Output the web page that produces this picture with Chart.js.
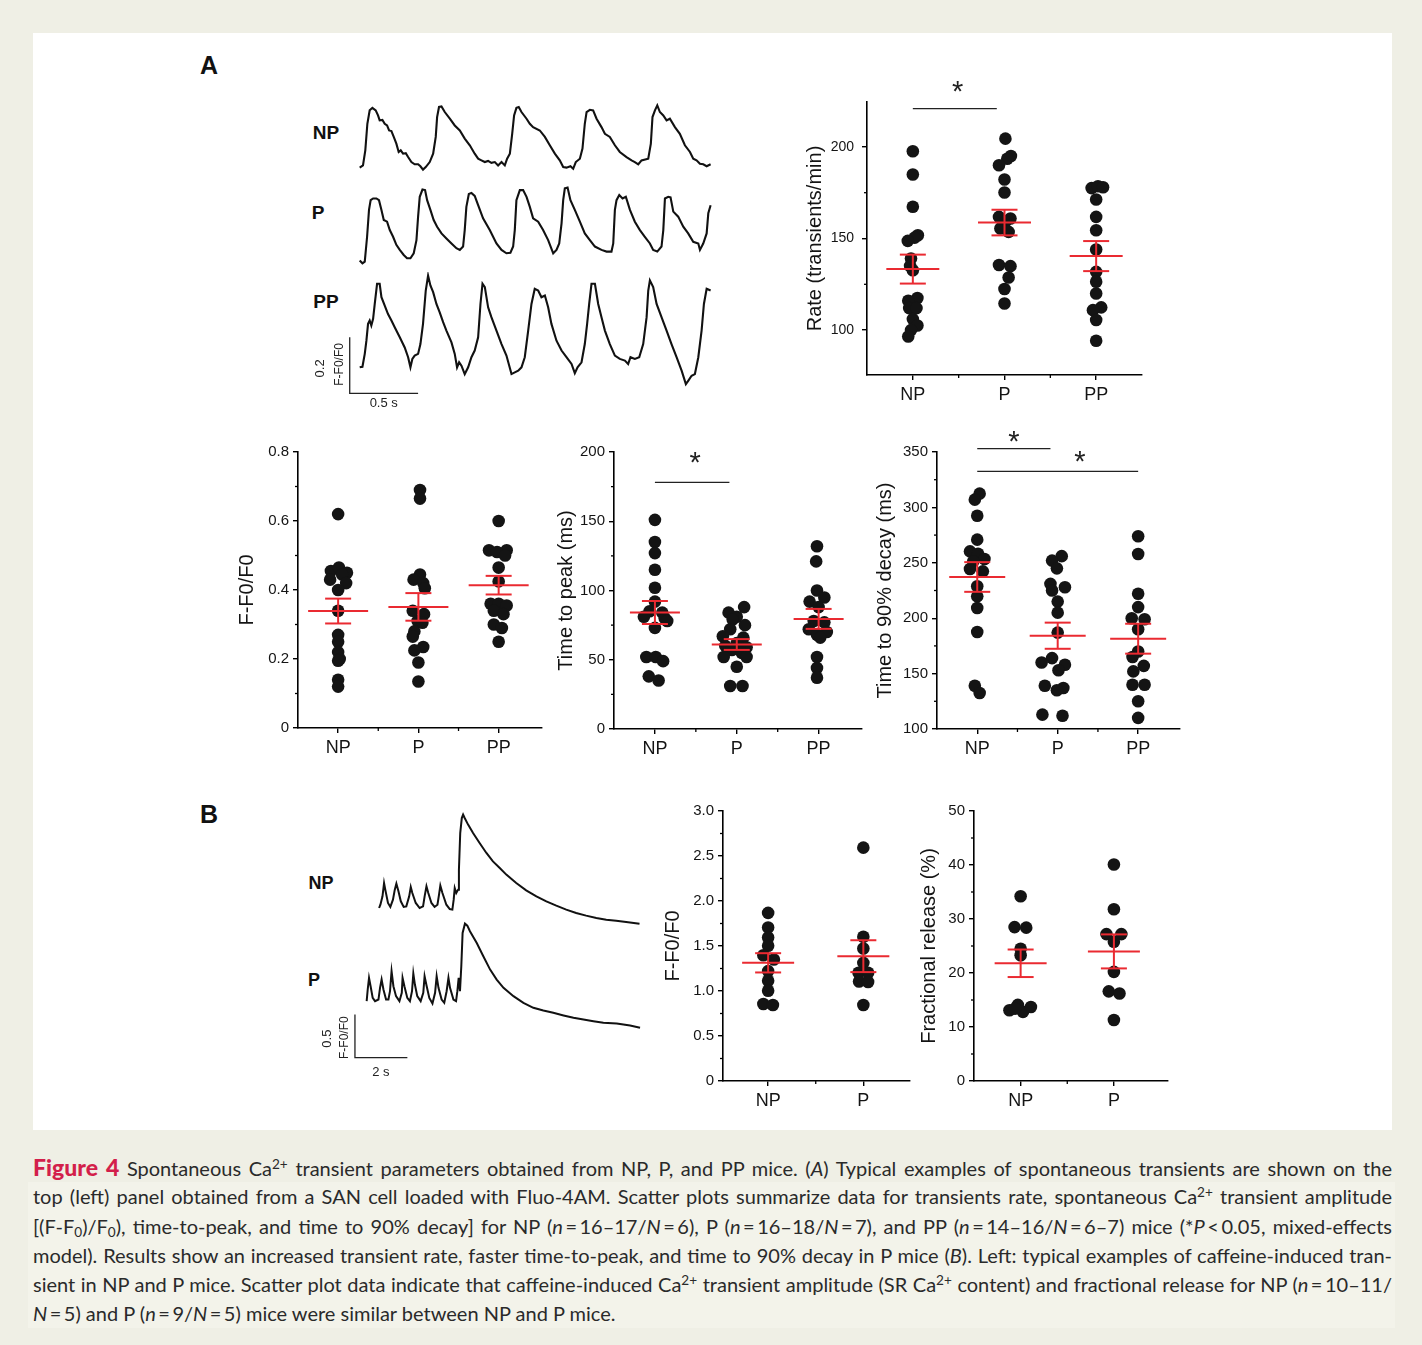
<!DOCTYPE html>
<html>
<head>
<meta charset="utf-8">
<script src="https://cdn.jsdelivr.net/npm/chart.js@4.4.0/dist/chart.umd.min.js"></script>
<style>
  html, body { margin: 0; padding: 0; }
  body { width: 1422px; height: 1345px; background: #efefe5; position: relative; overflow: hidden; }
  #panel { position: absolute; left: 33px; top: 33px; width: 1359px; height: 1097px; background: #fff; }
  canvas { position: absolute; }
  .lbl { position: absolute; font-family: Arial, "Liberation Sans", sans-serif; font-weight: bold; color: #111;
         line-height: 1; transform: translate(-50%, -50%); white-space: nowrap; }
  #band { position: absolute; left: 28px; top: 1182px; width: 1367px; height: 146px; background: #f3f3ea; }
  #caption { position: absolute; left: 33px; top: 1153px; width: 1359px; font-family: Lato, "Open Sans", sans-serif;
             font-size: 20px; color: #2a2a2a; }
  #caption div { height: 29.3px; line-height: 29.3px; text-align: justify; text-align-last: justify; }
  #caption div.last { text-align-last: left; }
  #caption .fig { color: #d31f4b; font-weight: 900; font-size: 23px; }
  #caption sup { font-size: 0.68em; line-height: 0; vertical-align: 0; position: relative; top: -0.55em; }
  #caption sub { font-size: 0.68em; line-height: 0; vertical-align: 0; position: relative; top: 0.25em; }
</style>
</head>
<body>
<div id="panel"></div>
<div id="band"></div>

<div class="lbl" style="left:209px;top:65px;font-size:25px">A</div>
<div class="lbl" style="left:209px;top:814px;font-size:25px">B</div>
<div class="lbl" style="left:326px;top:132px;font-size:19px">NP</div>
<div class="lbl" style="left:318px;top:212px;font-size:19px">P</div>
<div class="lbl" style="left:326px;top:301px;font-size:19px">PP</div>
<div class="lbl" style="left:321px;top:883px;font-size:18px">NP</div>
<div class="lbl" style="left:314px;top:980px;font-size:18px">P</div>

<canvas id="trNP"></canvas>
<canvas id="trP"></canvas>
<canvas id="trPP"></canvas>
<canvas id="cafNP"></canvas>
<canvas id="cafP"></canvas>
<canvas id="rate"></canvas>
<canvas id="amp"></canvas>
<canvas id="ttp"></canvas>
<canvas id="decay"></canvas>
<canvas id="srAmp"></canvas>
<canvas id="frac"></canvas>

<div id="caption">
  <div><span class="fig">Figure 4</span> Spontaneous Ca<sup>2+</sup> transient parameters obtained from NP, P, and PP mice. (<i>A</i>) Typical examples of spontaneous transients are shown on the</div>
  <div>top (left) panel obtained from a SAN cell loaded with Fluo-4AM. Scatter plots summarize data for transients rate, spontaneous Ca<sup>2+</sup> transient amplitude</div>
  <div>[(F-F<sub>0</sub>)/F<sub>0</sub>), time-to-peak, and time to 90% decay] for NP (<i>n</i>&#8201;=&#8201;16–17/<i>N</i>&#8201;=&#8201;6), P (<i>n</i>&#8201;=&#8201;16–18/<i>N</i>&#8201;=&#8201;7), and PP (<i>n</i>&#8201;=&#8201;14–16/<i>N</i>&#8201;=&#8201;6–7) mice (*<i>P</i>&#8201;&lt;&#8201;0.05, mixed-effects</div>
  <div>model). Results show an increased transient rate, faster time-to-peak, and time to 90% decay in P mice (<i>B</i>). Left: typical examples of caffeine-induced tran-</div>
  <div>sient in NP and P mice. Scatter plot data indicate that caffeine-induced Ca<sup>2+</sup> transient amplitude (SR Ca<sup>2+</sup> content) and fractional release for NP (<i>n</i>&#8201;=&#8201;10–11/</div>
  <div class="last"><i>N</i>&#8201;=&#8201;5) and P (<i>n</i>&#8201;=&#8201;9/<i>N</i>&#8201;=&#8201;5) mice were similar between NP and P mice.</div>
</div>

<script>
// ---- data ----
const groups3 = ["NP", "P", "PP"];
const groups2 = ["NP", "P"];

// spontaneous transients, [time (s), F-F0/F0]
const traceNP = [[0,0],[0.024,0.008],[0.041,0.062],[0.056,0.157],[0.073,0.205],[0.093,0.214],[0.117,0.205],[0.134,0.187],[0.146,0.169],[0.166,0.171],[0.183,0.157],[0.2,0.151],[0.215,0.133],[0.232,0.131],[0.249,0.11],[0.268,0.086],[0.285,0.056],[0.3,0.062],[0.317,0.05],[0.337,0.052],[0.354,0.038],[0.378,0.02],[0.402,0.012],[0.427,0.012],[0.444,0.005],[0.463,-0.007],[0.483,0.002],[0.512,0.02],[0.537,0.05],[0.556,0.11],[0.566,0.181],[0.58,0.217],[0.598,0.219],[0.622,0.199],[0.659,0.175],[0.695,0.151],[0.732,0.133],[0.768,0.104],[0.805,0.08],[0.841,0.05],[0.866,0.032],[0.89,0.026],[0.915,0.02],[0.939,0.024],[0.963,0.017],[0.988,0.02],[1.012,0.008],[1.037,0.02],[1.061,0.008],[1.078,0.032],[1.098,0.05],[1.115,0.121],[1.129,0.187],[1.146,0.214],[1.163,0.217],[1.183,0.199],[1.22,0.175],[1.244,0.157],[1.268,0.145],[1.317,0.133],[1.354,0.11],[1.39,0.08],[1.427,0.05],[1.463,0.026],[1.488,0.002],[1.512,0],[1.541,0.005],[1.561,-0.004],[1.58,0.02],[1.61,0.032],[1.629,0.068],[1.646,0.157],[1.659,0.199],[1.683,0.207],[1.707,0.205],[1.732,0.175],[1.768,0.145],[1.793,0.121],[1.829,0.11],[1.866,0.08],[1.902,0.056],[1.951,0.038],[1.988,0.026],[2.012,0.02],[2.037,0.012],[2.061,0.026],[2.11,0.032],[2.129,0.086],[2.141,0.181],[2.159,0.205],[2.176,0.223],[2.195,0.199],[2.22,0.187],[2.244,0.169],[2.268,0.175],[2.305,0.145],[2.341,0.121],[2.378,0.08],[2.415,0.056],[2.439,0.032],[2.463,0.026],[2.488,0.014],[2.512,0.012],[2.537,0.005],[2.566,0.012]];
const traceP = [[0,0.004],[0.02,-0.006],[0.037,0],[0.054,0.089],[0.068,0.185],[0.08,0.22],[0.098,0.226],[0.122,0.226],[0.141,0.22],[0.159,0.185],[0.176,0.149],[0.2,0.143],[0.22,0.113],[0.244,0.089],[0.268,0.06],[0.293,0.042],[0.322,0.024],[0.346,0.012],[0.371,0.012],[0.395,0.03],[0.415,0.077],[0.427,0.161],[0.439,0.232],[0.459,0.258],[0.478,0.256],[0.493,0.22],[0.517,0.185],[0.541,0.149],[0.566,0.125],[0.598,0.101],[0.634,0.083],[0.671,0.065],[0.707,0.048],[0.732,0.042],[0.756,0.054],[0.768,0.113],[0.78,0.196],[0.798,0.242],[0.817,0.246],[0.841,0.235],[0.866,0.202],[0.902,0.155],[0.951,0.113],[1.0,0.065],[1.037,0.042],[1.073,0.03],[1.102,0.032],[1.122,0.054],[1.134,0.113],[1.146,0.22],[1.171,0.256],[1.195,0.256],[1.22,0.232],[1.244,0.196],[1.268,0.155],[1.305,0.143],[1.341,0.113],[1.378,0.077],[1.415,0.03],[1.439,0.042],[1.459,0.065],[1.476,0.137],[1.488,0.22],[1.5,0.262],[1.52,0.265],[1.541,0.22],[1.573,0.185],[1.61,0.143],[1.646,0.101],[1.683,0.077],[1.72,0.054],[1.768,0.042],[1.805,0.036],[1.841,0.036],[1.854,0.065],[1.866,0.185],[1.878,0.22],[1.898,0.238],[1.922,0.226],[1.946,0.232],[1.976,0.185],[2.012,0.143],[2.049,0.113],[2.085,0.089],[2.122,0.065],[2.146,0.042],[2.176,0.036],[2.207,0.054],[2.22,0.113],[2.232,0.226],[2.256,0.232],[2.273,0.23],[2.293,0.179],[2.329,0.161],[2.366,0.125],[2.402,0.101],[2.439,0.071],[2.476,0.065],[2.488,0.042],[2.512,0.065],[2.537,0.101],[2.549,0.173],[2.566,0.202]];
const tracePP = [[0,0],[0.02,0.002],[0.037,0.048],[0.049,0.095],[0.061,0.155],[0.073,0.167],[0.085,0.149],[0.098,0.173],[0.11,0.226],[0.127,0.298],[0.146,0.298],[0.159,0.25],[0.183,0.22],[0.207,0.19],[0.232,0.167],[0.256,0.143],[0.293,0.107],[0.329,0.071],[0.354,0.036],[0.371,0],[0.385,0.03],[0.402,0.042],[0.427,0.048],[0.444,0.083],[0.463,0.155],[0.483,0.274],[0.5,0.327],[0.517,0.292],[0.537,0.268],[0.561,0.226],[0.585,0.196],[0.61,0.161],[0.634,0.131],[0.671,0.089],[0.695,0.048],[0.712,0],[0.727,0.018],[0.744,0.006],[0.768,-0.024],[0.793,0],[0.817,0.036],[0.841,0.06],[0.866,0.107],[0.883,0.226],[0.898,0.298],[0.915,0.286],[0.939,0.214],[0.963,0.179],[1.0,0.131],[1.037,0.083],[1.073,0.042],[1.11,-0.024],[1.134,-0.018],[1.159,-0.012],[1.183,0],[1.207,0.036],[1.232,0.131],[1.256,0.226],[1.28,0.28],[1.305,0.274],[1.329,0.25],[1.354,0.256],[1.378,0.214],[1.402,0.155],[1.439,0.095],[1.476,0.06],[1.512,0.036],[1.549,0.012],[1.573,-0.021],[1.593,0],[1.622,0.018],[1.646,0.083],[1.663,0.155],[1.678,0.226],[1.695,0.298],[1.72,0.298],[1.744,0.226],[1.768,0.179],[1.793,0.131],[1.829,0.083],[1.866,0.042],[1.902,0.03],[1.939,0.024],[1.963,0.012],[1.98,0.036],[2.012,0.03],[2.044,0.036],[2.073,0.083],[2.098,0.179],[2.11,0.274],[2.122,0.31],[2.146,0.286],[2.171,0.226],[2.207,0.179],[2.244,0.131],[2.28,0.083],[2.317,0.036],[2.354,-0.012],[2.385,-0.06],[2.402,-0.048],[2.427,-0.03],[2.451,-0.024],[2.476,0.036],[2.5,0.131],[2.517,0.226],[2.537,0.28],[2.566,0.274]];

// caffeine-induced transients, [time (s), F-F0/F0]
const caffeineNP = [[0,0],[0.05,0.038],[0.13,0.135],[0.19,0.288],[0.25,0.192],[0.34,0.058],[0.43,0.012],[0.53,0.096],[0.6,0.212],[0.66,0.281],[0.74,0.192],[0.83,0.077],[0.94,0.012],[1.04,0.019],[1.15,0.135],[1.21,0.242],[1.27,0.173],[1.4,0.058],[1.55,0],[1.68,0.019],[1.74,0.135],[1.81,0.25],[1.88,0.173],[2.0,0.058],[2.12,0.012],[2.23,0.038],[2.29,0.154],[2.34,0.258],[2.42,0.173],[2.57,0.038],[2.7,-0.012],[2.8,-0.019],[2.85,0.096],[2.89,0.231],[2.95,0.173],[3.02,0.212],[3.05,0.442],[3.1,0.865],[3.16,1.038],[3.21,1.077],[3.27,1.038],[3.4,0.962],[3.59,0.865],[3.84,0.75],[4.1,0.635],[4.35,0.538],[4.61,0.462],[4.86,0.385],[5.24,0.288],[5.62,0.204],[6.01,0.135],[6.39,0.077],[6.77,0.027],[7.15,-0.019],[7.53,-0.058],[7.91,-0.088],[8.3,-0.115],[8.68,-0.135],[9.06,-0.146],[9.44,-0.162],[9.95,-0.181]];
const caffeineP = [[0,0],[0.04,0.135],[0.09,0.269],[0.15,0.173],[0.23,0.038],[0.32,0],[0.45,0.019],[0.51,0.154],[0.57,0.25],[0.64,0.135],[0.74,0.019],[0.83,0.019],[0.89,0.115],[0.95,0.346],[1.02,0.173],[1.12,0.058],[1.25,0],[1.34,0.096],[1.37,0.269],[1.44,0.173],[1.55,0.038],[1.65,0],[1.73,0.115],[1.78,0.319],[1.84,0.192],[1.93,0.058],[2.06,0],[2.16,0.096],[2.21,0.288],[2.29,0.173],[2.39,0.038],[2.51,-0.027],[2.61,0.096],[2.67,0.288],[2.74,0.154],[2.86,0.019],[2.96,-0.019],[3.05,0.115],[3.12,0.269],[3.18,0.154],[3.31,0.019],[3.41,0],[3.46,0.115],[3.51,0.269],[3.56,0.115],[3.61,0.404],[3.66,0.788],[3.75,0.896],[3.84,0.873],[3.94,0.808],[4.2,0.673],[4.45,0.519],[4.71,0.365],[4.96,0.25],[5.22,0.154],[5.6,0.058],[5.98,-0.019],[6.36,-0.077],[6.74,-0.108],[7.12,-0.135],[7.51,-0.165],[7.89,-0.192],[8.27,-0.212],[8.65,-0.231],[9.03,-0.25],[9.54,-0.258],[10.05,-0.281],[10.43,-0.308]];

// scatter points, [horizontal jitter, value]
const rateNP = [[0,197.6],[0,184.9],[0,167.3],[0.055,151.8],[0.02,150.5],[-0.055,148.7],[-0.02,139.1],[-0.03,135],[0,132.7],[0.05,117.5],[-0.05,116],[-0.04,112],[0.04,112],[0,106],[0.05,102.5],[-0.02,100],[-0.05,96.5]];
const rateP = [[0.01,204.5],[0.07,195],[0.03,193.5],[-0.06,190],[0,182.2],[0,175.1],[-0.06,161.8],[0.065,160.9],[0.01,159.1],[-0.045,155.5],[0.045,153.6],[-0.06,135.5],[0.065,134.9],[0.045,128.7],[0,122.4],[0,114.5]];
const ratePP = [[-0.05,177.5],[0.02,178.5],[0.075,178],[0,171.3],[0,161.8],[0,154.5],[0,144],[0,131.8],[0,126.4],[0,120],[0.055,112.4],[-0.035,110.9],[0,105.5],[0,94.2]];
const rateMean = [133.3, 158.7, 140.4];
const rateSem = [7.9, 7.0, 8.2];

const ampNP = [[0,0.62],[-0.09,0.455],[0.01,0.465],[0.11,0.45],[0.05,0.445],[-0.1,0.43],[0.1,0.42],[0,0.40],[0,0.34],[0,0.27],[0,0.25],[0,0.22],[0.02,0.2],[0,0.195],[0,0.14],[0,0.12]];
const ampP = [[0.02,0.69],[0.02,0.665],[0.02,0.445],[-0.06,0.43],[0.06,0.42],[0.08,0.405],[-0.07,0.34],[0.07,0.33],[-0.01,0.31],[0.05,0.305],[-0.05,0.28],[-0.07,0.265],[0.06,0.235],[-0.05,0.225],[0,0.19],[0,0.135]];
const ampPP = [[0,0.60],[-0.12,0.515],[0.1,0.515],[-0.02,0.51],[0.08,0.5],[0,0.465],[0,0.425],[-0.1,0.36],[0,0.36],[0.1,0.355],[-0.06,0.34],[0.06,0.33],[-0.06,0.30],[0.04,0.29],[0,0.25]];
const ampMean = [0.339, 0.351, 0.414];
const ampSem = [0.036, 0.04, 0.027];

const ttpNP = [[0,151],[0,135],[0,127],[0,115],[0,102],[0,92],[-0.065,85],[0.09,84],[-0.135,81],[0.12,80],[0.15,78],[0,73],[-0.105,52],[0.01,52],[0.1,49],[-0.075,38],[0.045,35]];
const ttpP = [[0.09,88],[-0.1,84],[0,81],[-0.05,79],[0.1,75],[-0.08,72],[-0.17,67],[0.08,66],[0,62],[-0.14,60],[0.12,59],[-0.06,57],[0.06,55],[-0.16,52],[0.12,52],[0,45],[-0.08,31],[0.07,31]];
const ttpPP = [[-0.02,132],[-0.03,121],[-0.02,100],[0.07,95],[-0.11,92],[0,88],[-0.06,78],[0.07,77],[-0.12,72],[0.1,70],[-0.02,68],[0.02,66],[-0.02,52],[-0.02,44],[-0.02,37]];
const ttpMean = [84.1, 61.0, 79.5];
const ttpSem = [8.3, 3.9, 7.2];

const decayNP = [[0.03,312.4],[-0.03,307],[0,292.5],[0,270.9],[-0.09,260.3],[0.01,258.2],[0.09,253.4],[-0.05,251.3],[-0.09,244.4],[0.07,242.3],[0,228.8],[0,219.7],[0,209.2],[0,187.5],[-0.03,139.1],[0.03,132.5]];
const decayP = [[0.05,256],[-0.07,252],[-0.01,245],[-0.09,231],[0.09,228],[-0.07,225],[0,215],[0,205],[0,187],[-0.07,164],[-0.2,160],[0.09,158],[0.01,153],[-0.16,139],[0.07,137],[-0.01,135],[-0.19,113],[0.06,112]];
const decayPP = [[0,274],[0,258],[0,222],[0,210],[-0.08,200],[0.08,199],[0,190],[0,170],[-0.07,165],[0.07,157],[-0.06,152],[-0.07,140],[0.08,140],[0,125],[0,110]];
const decayMean = [237.2, 184.2, 181.5];
const decaySem = [13.4, 11.8, 13.5];

const srAmpNP = [[0,1.868],[0,1.706],[0,1.595],[0,1.502],[-0.05,1.398],[0.06,1.35],[0,1.221],[0,1.114],[0,1.003],[-0.05,0.855],[0.05,0.844]];
const srAmpP = [[0,2.593],[0,1.602],[0,1.472],[0,1.313],[-0.05,1.202],[0.05,1.202],[-0.045,1.105],[0.05,1.1],[0,0.844]];
const srAmpMean = [1.313, 1.387];
const srAmpSem = [0.107, 0.177];

const fracNP = [[0,34.2],[-0.065,28.5],[0.06,28.4],[0,24.5],[0,23.3],[-0.03,14.1],[-0.12,13.1],[0.025,12.8],[0.11,13.7],[-0.06,13.4]];
const fracP = [[0,40.1],[0,31.8],[-0.08,27.2],[0.08,27.2],[0,25.8],[0,20.2],[-0.055,16.6],[0.06,16.2],[0,11.3]];
const fracMean = [21.8, 24.0];
const fracSem = [2.55, 3.15];

// ---- drawing ----
const FONT = 'Arial, "Liberation Sans", Helvetica, sans-serif';
const INK = "#141414";
const RED = "#ea2a31";
Chart.defaults.font.family = FONT;
Chart.defaults.color = INK;

const decor = {
  id: "decor",
  afterDatasetsDraw(chart, args, o) {
    const { ctx, scales: { x, y } } = chart;
    ctx.save();
    ctx.strokeStyle = "#000";
    ctx.lineWidth = 1.3;
    (o.yMinor || []).forEach((v) => {
      const py = y.getPixelForValue(v);
      ctx.beginPath(); ctx.moveTo(x.left, py); ctx.lineTo(x.left - 3, py); ctx.stroke();
    });
    (o.xMinor || []).forEach((v) => {
      const px = x.getPixelForValue(v);
      ctx.beginPath(); ctx.moveTo(px, y.bottom); ctx.lineTo(px, y.bottom + 3); ctx.stroke();
    });
    // mean +/- SEM
    ctx.strokeStyle = RED;
    ctx.lineWidth = 2;
    const seg = (x1, y1, x2, y2) => { ctx.beginPath(); ctx.moveTo(x1, y1); ctx.lineTo(x2, y2); ctx.stroke(); };
    (o.means || []).forEach((m, i) => {
      const cx = x.getPixelForValue(i + 1);
      const pm = y.getPixelForValue(m);
      const pt = y.getPixelForValue(m + o.sems[i]);
      const pb = y.getPixelForValue(m - o.sems[i]);
      seg(cx - o.meanHalf, pm, cx + o.meanHalf, pm);
      seg(cx, pt, cx, pb);
      seg(cx - 13, pt, cx + 13, pt);
      seg(cx - 13, pb, cx + 13, pb);
    });
    // significance bars
    ctx.strokeStyle = "#222";
    ctx.lineWidth = 1.3;
    (o.bars || []).forEach((b) => {
      const py = y.getPixelForValue(b[2]);
      seg(x.getPixelForValue(b[0]), py, x.getPixelForValue(b[1]), py);
    });
    ctx.fillStyle = "#222";
    ctx.font = "29px " + FONT;
    ctx.textAlign = "center";
    ctx.textBaseline = "alphabetic";
    (o.stars || []).forEach((s) => {
      ctx.fillText("*", x.getPixelForValue(s[0]), y.getPixelForValue(s[1]) + 16);
    });
    ctx.restore();
  },
};

function scatterPanel(id, box, o) {
  const M = { l: 80, t: 34, r: 16, b: 46 };
  const cv = document.getElementById(id);
  cv.width = box.r - box.l + M.l + M.r;
  cv.height = box.b - box.t + M.t + M.b;
  cv.style.left = box.l - M.l + "px";
  cv.style.top = box.t - M.t + "px";
  const datasets = o.groups.map((g, i) => ({
    data: g.map((p) => ({ x: i + 1 + p[0], y: p[1] })),
    backgroundColor: INK,
    borderWidth: 0,
    pointRadius: 6.3,
    pointHoverRadius: 6.3,
  }));
  const axisGrid = { drawOnChartArea: false, drawTicks: true, tickLength: 5, color: "#000", lineWidth: 1.4 };
  const axisBorder = { color: "#000", width: 1.6 };
  return new Chart(cv, {
    type: "scatter",
    data: { datasets },
    options: {
      responsive: false,
      animation: false,
      events: [],
      layout: { padding: { top: M.t, right: M.r, left: 0, bottom: 0 } },
      plugins: {
        legend: { display: false },
        tooltip: { enabled: false },
        decor: { means: o.means, sems: o.sems, meanHalf: o.meanHalf, yMinor: o.yMinor, xMinor: o.xMinor, bars: o.bars, stars: o.stars },
      },
      scales: {
        x: {
          type: "linear",
          min: o.xMin,
          max: o.xMax,
          afterBuildTicks: (s) => { s.ticks = o.cats.map((c, i) => ({ value: i + 1 })); },
          afterFit: (s) => { s.height = M.b; },
          ticks: { callback: (v) => o.cats[v - 1], font: { size: o.catSize || 18 }, padding: 4, autoSkip: false, maxRotation: 0 },
          grid: axisGrid,
          border: axisBorder,
        },
        y: {
          type: "linear",
          min: o.yMin,
          max: o.yMax,
          afterBuildTicks: (s) => { s.ticks = o.yTicks.map((v) => ({ value: v })); },
          afterFit: (s) => { s.width = M.l; },
          ticks: { callback: (v, i) => o.yLabels[i], font: { size: o.tickSize || 15 }, padding: o.tickPad || 4, autoSkip: false },
          title: { display: true, text: o.title, font: { size: 20 }, padding: { top: o.titleOff - 12, bottom: 0 } },
          grid: axisGrid,
          border: axisBorder,
        },
      },
    },
    plugins: [decor],
  });
}

const scaleBar = {
  id: "scaleBar",
  afterDatasetsDraw(chart, args, o) {
    if (!o.t0 && o.t0 !== 0) return;
    const { ctx, scales: { x, y } } = chart;
    const x0 = x.getPixelForValue(o.t0), y0 = y.getPixelForValue(o.f0);
    const x1 = x.getPixelForValue(o.t0 + o.dt), y1 = y.getPixelForValue(o.f0 + o.df);
    ctx.save();
    ctx.strokeStyle = "#222";
    ctx.lineWidth = 1.3;
    ctx.beginPath(); ctx.moveTo(x0, y1); ctx.lineTo(x0, y0); ctx.lineTo(x1, y0); ctx.stroke();
    ctx.fillStyle = "#222";
    ctx.textAlign = "center";
    ctx.textBaseline = "middle";
    ctx.font = "13px " + FONT;
    ctx.fillText(o.tLabel, x0 + o.tOff[0], y0 + o.tOff[1]);
    o.fLabels.forEach((l) => {
      ctx.save();
      ctx.translate(x0 + l[1], y0 + l[2]);
      ctx.rotate(-Math.PI / 2);
      ctx.font = l[3] + "px " + FONT;
      ctx.fillText(l[0], 0, 0);
      ctx.restore();
    });
    ctx.restore();
  },
};

function tracePanel(id, pts, g, lw, bar) {
  const cv = document.getElementById(id);
  cv.width = Math.round((g.xMax - g.xMin) * g.pxPerS);
  cv.height = Math.round((g.yMax - g.yMin) * g.pxPerUnit);
  cv.style.left = g.x0 + g.xMin * g.pxPerS + "px";
  cv.style.top = g.y0 - g.yMax * g.pxPerUnit + "px";
  return new Chart(cv, {
    type: "line",
    data: { datasets: [{ data: pts.map((p) => ({ x: p[0], y: p[1] })), borderColor: "#111", borderWidth: lw, pointRadius: 0, tension: 0 }] },
    options: {
      responsive: false,
      animation: false,
      events: [],
      layout: { padding: 0 },
      plugins: { legend: { display: false }, tooltip: { enabled: false }, scaleBar: bar || {} },
      scales: {
        x: { type: "linear", display: false, min: g.xMin, max: g.xMax },
        y: { type: "linear", display: false, min: g.yMin, max: g.yMax },
      },
    },
    plugins: [scaleBar],
  });
}

// spontaneous traces (panel A, left)
const gA = { pxPerS: 136.7, pxPerUnit: 280, xMin: -0.4, xMax: 2.62, yMin: -0.08, yMax: 0.31, x0: 360 };
tracePanel("trNP", traceNP, Object.assign({}, gA, { y0: 167.3 }), 2.1);
tracePanel("trP", traceP, Object.assign({}, gA, { y0: 261.7 }), 2.1);
tracePanel("trPP", tracePP, Object.assign({}, gA, { y0: 366.7, yMin: -0.17, yMax: 0.34 }), 2.1, {
  t0: -0.073, f0: -0.093, dt: 0.5, df: 0.2, tLabel: "0.5 s", tOff: [34, 10],
  fLabels: [["0.2", -29, -25, 13], ["F-F0/F0", -10, -29, 12]],
});

// caffeine traces (panel B, left)
const gB = { pxPerS: 26.2, pxPerUnit: 86.7 };
tracePanel("cafNP", caffeineNP, Object.assign({}, gB, { xMin: -0.5, xMax: 11, yMin: -0.3, yMax: 1.2, x0: 379.3, y0: 908.3 }), 2);
tracePanel("cafP", caffeineP, Object.assign({}, gB, { xMin: -2.2, xMax: 11, yMin: -1.05, yMax: 1.1, x0: 366.7, y0: 1001.7 }), 2, {
  t0: -0.447, f0: -0.653, dt: 2, df: 0.5, tLabel: "2 s", tOff: [26, 15],
  fLabels: [["0.5", -28, -19, 13], ["F-F0/F0", -10, -20, 12]],
});

scatterPanel("rate", { l: 867, t: 102, r: 1142, b: 375 }, {
  groups: [rateNP, rateP, ratePP], cats: groups3, means: rateMean, sems: rateSem, meanHalf: 26.5,
  xMin: 0.5, xMax: 3.5, yMin: 75.5, yMax: 224.5, yTicks: [100, 150, 200], yLabels: ["100", "150", "200"],
  yMinor: [125, 175], xMinor: [1.5, 2.5], title: "Rate (transients/min)", titleOff: 28.3, tickSize: 14, tickPad: 8, catSize: 18,
  bars: [[1, 1.916, 220.9]], stars: [[1.49, 233.6]],
});
scatterPanel("amp", { l: 298, t: 452, r: 542, b: 728 }, {
  groups: [ampNP, ampP, ampPP], cats: groups3, means: ampMean, sems: ampSem, meanHalf: 30,
  xMin: 0.5, xMax: 3.54, yMin: 0, yMax: 0.8, yTicks: [0, 0.2, 0.4, 0.6, 0.8], yLabels: ["0", "0.2", "0.4", "0.6", "0.8"],
  yMinor: [0.1, 0.3, 0.5, 0.7], xMinor: [1.5, 2.5], title: "F-F0/F0", titleOff: 29,
});
scatterPanel("ttp", { l: 614, t: 452, r: 862, b: 729 }, {
  groups: [ttpNP, ttpP, ttpPP], cats: groups3, means: ttpMean, sems: ttpSem, meanHalf: 25,
  xMin: 0.5, xMax: 3.53, yMin: 0, yMax: 200, yTicks: [0, 50, 100, 150, 200], yLabels: ["0", "50", "100", "150", "200"],
  yMinor: [25, 75, 125, 175], xMinor: [1.5, 2.5], title: "Time to peak (ms)", titleOff: 32.4,
  bars: [[1, 1.91, 178]], stars: [[1.49, 197]],
});
scatterPanel("decay", { l: 937, t: 452, r: 1180, b: 729 }, {
  groups: [decayNP, decayP, decayPP], cats: groups3, means: decayMean, sems: decaySem, meanHalf: 28,
  xMin: 0.5, xMax: 3.52, yMin: 100, yMax: 350, yTicks: [100, 150, 200, 250, 300, 350], yLabels: ["100", "150", "200", "250", "300", "350"],
  yMinor: [125, 175, 225, 275, 325], xMinor: [1.5, 2.5], title: "Time to 90% decay (ms)", titleOff: 28.3,
  bars: [[1, 1.91, 353], [1, 3, 332.6]], stars: [[1.455, 365.6], [2.275, 347.6]],
});
scatterPanel("srAmp", { l: 723, t: 811, r: 910, b: 1081 }, {
  groups: [srAmpNP, srAmpP], cats: groups2, means: srAmpMean, sems: srAmpSem, meanHalf: 26,
  xMin: 0.526, xMax: 2.49, yMin: 0, yMax: 3, yTicks: [0, 0.5, 1, 1.5, 2, 2.5, 3], yLabels: ["0", "0.5", "1.0", "1.5", "2.0", "2.5", "3.0"],
  yMinor: [0.25, 0.75, 1.25, 1.75, 2.25, 2.75], xMinor: [1.5], title: "F-F0/F0", titleOff: 30,
});
scatterPanel("frac", { l: 974, t: 811, r: 1168, b: 1081 }, {
  groups: [fracNP, fracP], cats: groups2, means: fracMean, sems: fracSem, meanHalf: 26,
  xMin: 0.5, xMax: 2.58, yMin: 0, yMax: 50, yTicks: [0, 10, 20, 30, 40, 50], yLabels: ["0", "10", "20", "30", "40", "50"],
  yMinor: [5, 15, 25, 35, 45], xMinor: [1.5], title: "Fractional release (%)", titleOff: 35.7,
});
</script>
</body>
</html>
